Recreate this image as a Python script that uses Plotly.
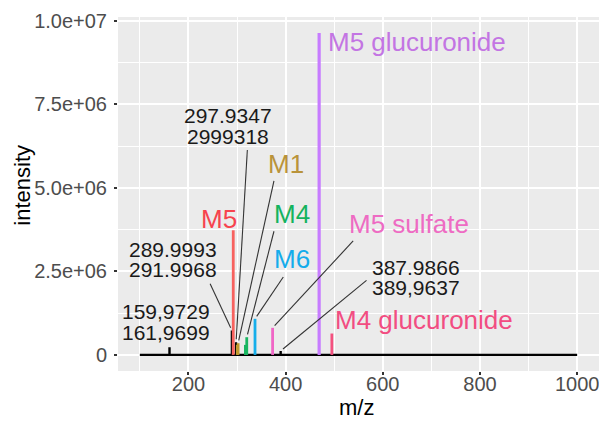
import math
import plotly.graph_objects as go

# ---------------- data ----------------
spec_range = [100, 1000]                     # m/z span of the recorded spectrum
spec_mz = [161.0, 289.5, 298.0, 389.8]       # unassigned (black) peaks
spec_int = [0.23e6, 0.73e6, 0.38e6, 0.12e6]

met_names = ["M5", "M1", "M4", "M6", "M5 sulfate", "M5 glucuronide", "M4 glucuronide"]
met_mz = [[292.2], [300.6, 302.2], [317.2, 320.0], [337.0], [373.2], [469.0], [495.2]]
met_int = [[3.73e6], [0.30e6, 0.35e6], [0.30e6, 0.53e6], [1.08e6], [0.81e6], [9.63e6], [0.64e6]]

x_tickvals = [200, 400, 600, 800, 1000]
x_minorvals = [100, 300, 500, 700, 900]
y_tickvals = [0, 2.5e6, 5.0e6, 7.5e6, 1.0e7]
y_ticktext = ["0", "2.5e+06", "5.0e+06", "7.5e+06", "1.0e+07"]
y_minorvals = [1.25e6, 3.75e6, 6.25e6, 8.75e6]

# black mass labels: (line1, line2, peak index in spec arrays)
mass_labels = [
    ("159,9729", "161,9699", 0),
    ("289.9993", "291.9968", 1),
    ("297.9347", "2999318", 2),
    ("387.9866", "389,9637", 3),
]

# ---------------- styles / layout ----------------
met_line_colors = ["#F7625F", "#C09A2E", "#18B560", "#16AEEA", "#F066C6", "#C77CFF", "#F4517F"]
met_text_colors = ["#F7434E", "#B9933A", "#14B35E", "#14ACEB", "#EE6BC3", "#C375E3", "#F24D82"]

# label placements (text centre in data units) and leader starting points
mass_label_pos = [(154.2, 0.68e6), (169.2, 2.55e6), (282.2, 6.55e6), (668.2, 2.01e6)]
mass_leader_start = [None, (244.6, 2.13e6), (321.2, 6.13e6), (566.5, 2.23e6)]
met_label_pos = [(262.7, 4.08e6), (401.1, 5.71e6), (413.4, 4.21e6), (414.0, 2.86e6),
                 (653.8, 3.91e6), (671.2, 9.37e6), (684.6, 1.03e6)]
met_leader_start = [None, (376.0, 5.21e6), (376.0, 3.70e6), (395.2, 2.33e6),
                    (539.0, 3.41e6), None, None]
met_leader_peak = [None, 1, 1, 0, 0, None, None]

# the page body adds an 8px offset; panel target in window pixels: x 118..599, y 17..371
OFF = 8
W, H = 599, 413
ML, MT = 118 - OFF, 17 - OFF
MR = W - (599 - OFF)
MB = H - (371 - OFF)
FONT = "Liberation Sans, Arial, sans-serif"

# ggplot style 5% expansion
xspan = spec_range[1] - spec_range[0]
xr = [spec_range[0] - 0.05 * xspan, spec_range[1] + 0.05 * xspan]
ymax = max(max(v) for v in met_int + [spec_int])
yr = [-0.05 * ymax, ymax * 1.05]

pw, ph = W - ML - MR, H - MT - MB
sx = pw / (xr[1] - xr[0])
sy = ph / (yr[1] - yr[0])


def paper_x(px):
    return (px - OFF - ML) / pw


def paper_y(py):
    return (H - MB - (py - OFF)) / ph


fig = go.Figure()

# black spectrum (baseline with unassigned peaks)
bx, by = [spec_range[0]], [0]
for m, v in sorted(zip(spec_mz, spec_int)):
    bx += [m, m, m]
    by += [0, v, 0]
bx.append(spec_range[1])
by.append(0)
fig.add_trace(go.Scatter(x=bx, y=by, mode="lines", line=dict(color="black", width=2.4),
                         hoverinfo="skip", showlegend=False))

# coloured metabolite peaks
for name, mzs, ints, col in zip(met_names, met_mz, met_int, met_line_colors):
    xs, ys = [], []
    for m, v in zip(mzs, ints):
        xs += [m, m, None]
        ys += [0, v, None]
    fig.add_trace(go.Scatter(x=xs, y=ys, mode="lines", name=name,
                             line=dict(color=col, width=2.8 if name != "M5 glucuronide" else 3.2),
                             hoverinfo="skip", showlegend=False))


# leader lines
def leader(start, peak, pad_px=3.0):
    x0, y0 = start
    xp, yp = peak
    dx, dy = (x0 - xp) * sx, (y0 - yp) * sy
    L = math.hypot(dx, dy)
    ex = xp + dx / L * pad_px / sx
    ey = yp + dy / L * pad_px / sy
    return [x0, ex, None], [y0, ey, None]


lx, ly = [], []
for (l1, l2, pi), st in zip(mass_labels, mass_leader_start):
    if st is None:
        continue
    a, b = leader(st, (spec_mz[pi], spec_int[pi]))
    lx += a
    ly += b
for i, st in enumerate(met_leader_start):
    if st is None:
        continue
    k = met_leader_peak[i]
    a, b = leader(st, (met_mz[i][k], met_int[i][k]))
    lx += a
    ly += b
fig.add_trace(go.Scatter(x=lx, y=ly, mode="lines", line=dict(color="#333333", width=1.1),
                         hoverinfo="skip", showlegend=False))

annotations = []
for (l1, l2, pi), (tx, ty) in zip(mass_labels, mass_label_pos):
    annotations.append(dict(x=tx, y=ty, text=l2, showarrow=False, xref="x", yref="y",
                            xanchor="center", yanchor="middle",
                            font=dict(size=21, color="#1a1a1a", family=FONT)))
    annotations.append(dict(x=tx, y=ty, text=l1, showarrow=False, xref="x", yref="y", yshift=20.5,
                            xanchor="center", yanchor="middle",
                            font=dict(size=21, color="#1a1a1a", family=FONT)))
for name, (tx, ty), col in zip(met_names, met_label_pos, met_text_colors):
    annotations.append(dict(x=tx, y=ty, text=name, showarrow=False, xref="x", yref="y",
                            xanchor="center", yanchor="middle",
                            font=dict(size=26, color=col, family=FONT)))

# axis titles
annotations.append(dict(x=paper_x(22.7), y=paper_y(185), xref="paper", yref="paper",
                        xanchor="center", yanchor="middle",
                        text="intensity", textangle=-90, showarrow=False,
                        font=dict(size=22, color="black", family=FONT)))
annotations.append(dict(x=paper_x(356.3), y=paper_y(407), xref="paper", yref="paper",
                        xanchor="center", yanchor="middle",
                        text="m/z", showarrow=False,
                        font=dict(size=22, color="black", family=FONT)))

fig.update_layout(
    width=W, height=H,
    margin=dict(l=ML, r=MR, t=MT, b=MB, pad=0),
    paper_bgcolor="white", plot_bgcolor="#EBEBEB",
    font=dict(family=FONT),
    annotations=annotations,
    showlegend=False,
)
fig.update_xaxes(range=xr, tickvals=x_tickvals, ticktext=[str(v) for v in x_tickvals],
                 showgrid=True, gridcolor="white", gridwidth=2.2, zeroline=False,
                 ticks="outside", ticklen=3, tickwidth=1.5, tickcolor="#333333",
                 ticklabelstandoff=-8, automargin=False,
                 tickfont=dict(size=20, color="#4D4D4D", family=FONT),
                 minor=dict(tickvals=x_minorvals, showgrid=True, gridcolor="white", gridwidth=1.1),
                 showline=False)
fig.update_yaxes(range=yr, tickvals=y_tickvals, ticktext=y_ticktext,
                 showgrid=True, gridcolor="white", gridwidth=2.2, zeroline=False,
                 ticks="outside", ticklen=3, tickwidth=1.5, tickcolor="#333333",
                 ticklabelstandoff=3, automargin=False,
                 tickfont=dict(size=20, color="#4D4D4D", family=FONT),
                 minor=dict(tickvals=y_minorvals, showgrid=True, gridcolor="white", gridwidth=1.1),
                 showline=False)

fig.write_html("out.html")
